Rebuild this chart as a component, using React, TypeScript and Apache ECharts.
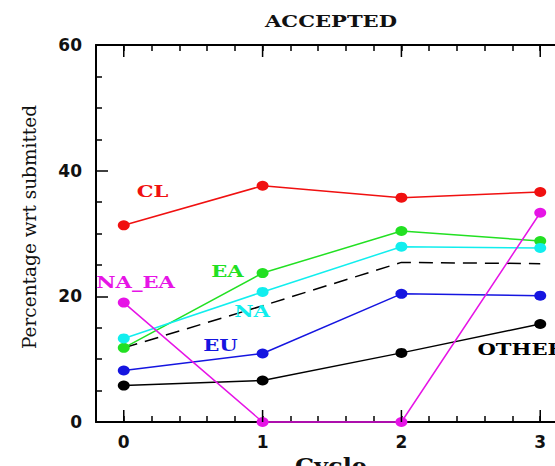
import React, { useEffect, useRef } from 'react';
import * as echarts from 'echarts';

// Submission cycles and the percentage of submitted proposals accepted per region
const cycles = [0, 1, 2, 3];
const clValues = [31.3, 37.6, 35.7, 36.6];
const eaValues = [11.8, 23.7, 30.4, 28.8];
const naValues = [13.3, 20.7, 27.9, 27.7];
const euValues = [8.2, 10.9, 20.4, 20.1];
const otherValues = [5.8, 6.6, 11.0, 15.6];
const naEaValues = [19.0, 0, 0, 33.3];
const overallValues = [11.8, 18.5, 25.4, 25.2];

const yTickLabels = [0, 20, 40, 60];
const xMajorTicks = [0, 1, 2, 3];

const RED = '#f01010';
const GREEN = '#22e022';
const CYAN = '#11eeee';
const BLUE = '#1515e0';
const MAGENTA = '#e614e6';
const BLACK = '#000000';

// Region names placed next to their curves, in data coordinates
const regionLabels = [
  { text: 'CL', x: 0.207, y: 36.8, color: RED, align: 'center' },
  { text: 'NA_EA', x: 0.085, y: 22.2, color: MAGENTA, align: 'center' },
  { text: 'EA', x: 0.747, y: 24.0, color: GREEN, align: 'center' },
  { text: 'NA', x: 0.924, y: 17.7, color: CYAN, align: 'center' },
  { text: 'EU', x: 0.697, y: 12.3, color: BLUE, align: 'center' },
  { text: 'OTHER', x: 2.548, y: 11.66, color: BLACK, align: 'left' },
];

const SERIF = '"DejaVu Serif", serif';
const SANS = '"DejaVu Sans", sans-serif';
const WIDE = 1.32;

const pairs = (vals: number[]) => cycles.map((c, i) => [c, vals[i]]);

function lineSeries(name: string, vals: number[], color: string) {
  return {
    name,
    type: 'line',
    data: pairs(vals),
    symbol: 'circle',
    symbolSize: [12, 10],
    itemStyle: { color },
    lineStyle: { color, width: 1.5 },
    clip: false,
    z: 3,
  };
}

export default function App() {
  const ref = useRef<HTMLDivElement>(null);

  useEffect(() => {
    if (!ref.current) return;
    const chart = echarts.init(ref.current, null, { renderer: 'svg' });

    const minorX = {
      type: 'value',
      min: -0.2,
      max: 3.2,
      interval: 0.2,
      axisLine: { show: true, onZero: false, lineStyle: { color: BLACK, width: 2 } },
      axisTick: { show: true, inside: true, length: 6, lineStyle: { color: BLACK, width: 1.5 } },
      splitLine: { show: false },
    };

    chart.setOption({
      animation: false,
      backgroundColor: '#ffffff',
      grid: {
        left: 96,
        top: 45,
        width: 472,
        bottom: 44,
        containLabel: false,
        outerBoundsMode: 'none',
      },
      xAxis: [
        {
          ...minorX,
          position: 'bottom',
          axisLabel: {
            show: true,
            margin: 11,
            fontSize: 17,
            fontFamily: SANS,
            fontWeight: 'bold',
            color: '#111',
            formatter: (v: number) => {
              const r = Math.round(v);
              return Math.abs(v - r) < 1e-6 && xMajorTicks.includes(r) ? String(r) : '';
            },
          },
        },
        {
          ...minorX,
          position: 'top',
          axisLabel: { show: false },
        },
      ],
      yAxis: [
        {
          type: 'value',
          min: 0,
          max: 60,
          interval: 20,
          position: 'left',
          axisLine: { show: true, onZero: false, lineStyle: { color: BLACK, width: 2 } },
          axisTick: { show: true, inside: true, length: 12, lineStyle: { color: BLACK, width: 1.5 } },
          minorTick: { show: true, splitNumber: 4, length: 6, lineStyle: { color: BLACK, width: 1.5 } },
          splitLine: { show: false },
          axisLabel: {
            margin: 14,
            fontSize: 17,
            fontFamily: SANS,
            fontWeight: 'bold',
            color: '#111',
            formatter: (v: number) => (yTickLabels.includes(v) ? String(v) : ''),
          },
        },
      ],
      series: [
        lineSeries('CL', clValues, RED),
        lineSeries('EA', eaValues, GREEN),
        lineSeries('NA', naValues, CYAN),
        lineSeries('EU', euValues, BLUE),
        lineSeries('OTHER', otherValues, BLACK),
        {
          name: 'ALL',
          type: 'line',
          data: pairs(overallValues),
          symbol: 'none',
          lineStyle: { color: BLACK, width: 1.5, type: [14, 8] },
          z: 2,
        },
        lineSeries('NA_EA', naEaValues, MAGENTA),
        {
          // Longer tick marks at each whole cycle, bottom and top
          name: 'majorTicks',
          type: 'custom',
          silent: true,
          clip: false,
          z: 4,
          data: xMajorTicks.map((t) => [t, 0]),
          encode: { x: 0, y: 1 },
          renderItem: (_params: any, api: any) => {
            const x = api.value(0);
            const b = api.coord([x, 0]);
            const t = api.coord([x, 60]);
            const style = { stroke: BLACK, lineWidth: 1.5 };
            return {
              type: 'group',
              children: [
                { type: 'line', shape: { x1: b[0], y1: b[1], x2: b[0], y2: b[1] - 12 }, style },
                { type: 'line', shape: { x1: t[0], y1: t[1], x2: t[0], y2: t[1] + 12 }, style },
              ],
            };
          },
        },
      ],
    });

    const labelElements = regionLabels.map((l) => {
      const p = chart.convertToPixel({ xAxisIndex: 0, yAxisIndex: 0 }, [l.x, l.y]) as number[];
      return {
        type: 'text',
        x: p[0],
        y: p[1],
        scaleX: WIDE,
        z: 10,
        style: {
          text: l.text,
          fill: l.color,
          font: `bold 16px ${SERIF}`,
          align: l.align,
          verticalAlign: 'middle',
        },
      };
    });

    chart.setOption({
      graphic: [
        ...labelElements,
        {
          type: 'text',
          x: 331,
          y: 21,
          scaleX: WIDE,
          style: { text: 'ACCEPTED', fill: '#111', font: `bold 16px ${SERIF}`, align: 'center', verticalAlign: 'middle' },
        },
        {
          type: 'text',
          x: 29,
          y: 227,
          rotation: Math.PI / 2,
          style: { text: 'Percentage wrt submitted', fill: '#111', font: `18.5px ${SERIF}`, align: 'center', verticalAlign: 'middle' },
        },
        {
          type: 'text',
          x: 331,
          y: 466,
          scaleX: 1.2,
          style: { text: 'Cycle', fill: '#111', font: `bold 20px ${SERIF}`, align: 'center', verticalAlign: 'middle' },
        },
        {
          type: 'text',
          x: 110,
          y: 4,
          scaleX: WIDE,
          style: { text: 'CH', fill: '#5b5bff', font: `bold 24px ${SERIF}`, align: 'left', verticalAlign: 'bottom' },
        },
        {
          type: 'text',
          x: 500,
          y: 4,
          scaleX: WIDE,
          style: { text: 'NC', fill: '#5b5bff', font: `bold 24px ${SERIF}`, align: 'left', verticalAlign: 'bottom' },
        },
      ],
    });

    return () => chart.dispose();
  }, []);

  return (
    <div
      ref={ref}
      style={{ position: 'fixed', left: 0, top: 0, width: 555, height: 466, background: '#fff' }}
    />
  );
}
